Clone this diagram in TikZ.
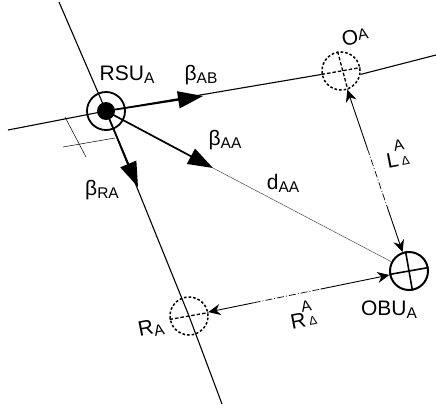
\documentclass[tikz,border=0pt]{standalone}
\usepackage{fontspec}
\setmainfont{Liberation Sans}
\usetikzlibrary{positioning, arrows.meta, calc}
\newcommand{\subtxt}[1]{\raisebox{-3pt}{\fontsize{15.5}{15.5}\selectfont #1}}
\newcommand{\suptxt}[1]{\raisebox{3pt}{\fontsize{15.5}{15.5}\selectfont #1}}
\newcommand{\stacktxt}{\hspace{-2pt}\rlap{\raisebox{15.5pt}{\fontsize{15.5}{15.5}\selectfont A}}\hspace{5pt}\raisebox{1pt}{\fontsize{12}{12}\selectfont Δ}}

\begin{document}
\begin{tikzpicture}[x=1pt, y=-1pt,
lbl/.style={inner sep=0pt, font=\fontsize{21}{21}\selectfont},
tilted/.style={lbl, rotate=11},
axisline/.style={line width=1.1pt},
thinline/.style={line width=0.5pt},
beam/.style={line width=1.7pt, -{Triangle[length=25pt,width=17pt]}},
dimline/.style={line width=0.9pt},
dimdash/.style={line width=0.7pt, dash pattern=on 7pt off 2pt on 1pt off 2pt},
ghost/.style={circle, draw, dash pattern=on 2.6pt off 2pt, line width=1.5pt, minimum size=38pt, inner sep=0pt},
ghostcross/.style={line width=1.3pt, dash pattern=on 3.5pt off 2pt}]
    \useasboundingbox (0,0) rectangle (436,410);

    \node[ghost] (o) at (341,71) {};
    \node[ghost] (r) at (189,316) {};
    \node[circle, draw, line width=2pt, minimum size=38pt, inner sep=0pt] (obu) at (409,271) {};
    \node[circle, draw, line width=1.8pt, minimum size=38pt, inner sep=0pt] (rsu) at (106,111) {};

    \coordinate (top) at (59,2);
    \coordinate (bottom) at (222,404);
    \coordinate (west) at (8,130);
    \coordinate (east) at (436,55);
    \coordinate (tipab) at (203,96);
    \coordinate (tipaa) at (213,168);
    \coordinate (tipra) at (138,187);

    \draw[axisline] (top) -- (rsu.center) -- (r.center) -- (bottom);
    \draw[axisline] (west) -- (rsu.center) -- (o.190);
    \draw[axisline] (o.-10) -- (east);
    \draw[thinline, draw=black!70] (tipaa) -- (obu);

    \node[circle, fill=black, minimum size=18pt, inner sep=0pt] (hub) at (rsu) {};
    \draw[beam] (hub.center) -- (tipab);
    \draw[beam] (hub.center) -- (tipaa);
    \draw[beam] (hub.center) -- (tipra);

    % ticks
    \coordinate (ticka1) at (65,117);
    \coordinate (ticka2) at (86,157);
    \coordinate (tickb1) at (63,147);
    \coordinate (tickb2) at (115,138);
    \draw[thinline] (ticka1) -- (ticka2);
    \draw[thinline] (tickb1) -- (tickb2);

    \draw[ghostcross] (o.190) -- (o.10);
    \draw[ghostcross] (o.100) -- (o.-70);
    \draw[ghostcross] (r.190) -- (r.10);
    \draw[line width=1.6pt] (obu.190) -- (obu.10);
    \draw[line width=1.6pt] (obu.100) -- (obu.-80);

    \path (o) -- (obu) coordinate[pos=.36] (la) coordinate[pos=.72] (lb);
    \path (r) -- (obu) coordinate[pos=.25] (ra) coordinate[pos=.62] (rb);
    \draw[dimline, -{Stealth[length=12pt,width=11pt]}] (la) -- (o);
    \draw[dimdash] (la) -- (lb);
    \draw[dimline, -{Stealth[length=12pt,width=11pt]}] (lb) -- (obu);
    \draw[dimline, -{Stealth[length=12pt,width=11pt]}] (ra) -- (r);
    \draw[dimdash] (ra) -- (rb);
    \draw[dimline, -{Stealth[length=12pt,width=11pt]}] (rb) -- (obu);

    \node[lbl] (rsulabel) at (127,75) {RSU\subtxt{A}};
    \node[lbl] (ab) at (201,75) {β\subtxt{AB}};
    \node[lbl] (aa) at (225,140) {β\subtxt{AA}};
    \node[lbl] (ralabel) at (102,190) {β\subtxt{RA}};
    \node[lbl] (daa) at (283,183) {d\subtxt{AA}};
    \node[lbl] (obulabel) at (389,310) {OBU\subtxt{A}};
    \node[tilted] (olabel) at (355,37) {O\suptxt{A}};
    \node[tilted] (rlabel) at (151,328) {R\subtxt{A}};
    \node[tilted, anchor=base west] (llabel) at (388,169) {L\stacktxt};
    \node[tilted, anchor=base west] (rdelta) at (292,330) {R\stacktxt};
\end{tikzpicture}
\end{document}
